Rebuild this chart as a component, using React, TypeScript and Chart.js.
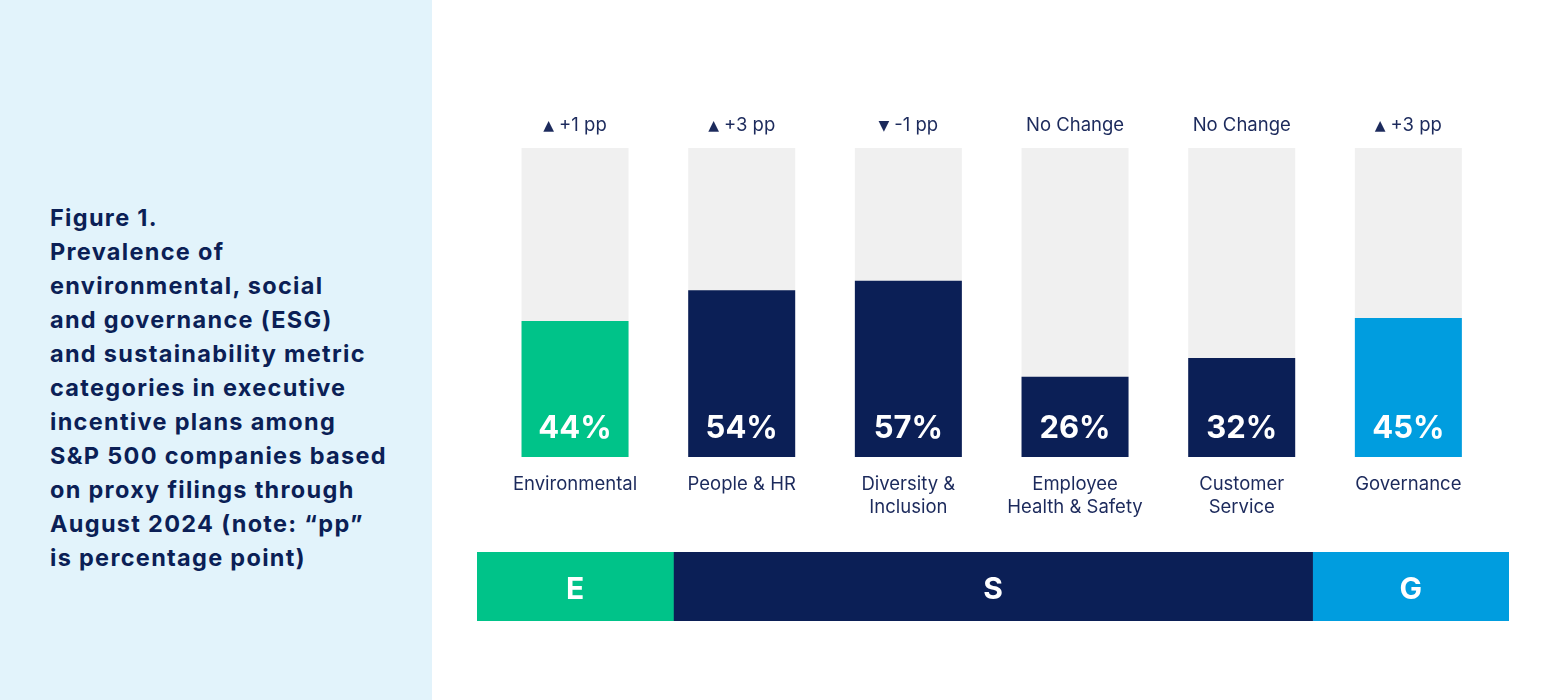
import React, { useEffect, useRef } from "react";
import { Chart, registerables } from "chart.js";

Chart.register(...registerables);

// ---------- data ----------
const categories: string[][] = [
  ["Environmental"],
  ["People & HR"],
  ["Diversity &", "Inclusion"],
  ["Employee", "Health & Safety"],
  ["Customer", "Service"],
  ["Governance"],
];
const values: number[] = [44, 54, 57, 26, 32, 45];
const changeLabels: string[] = ["▲ +1 pp", "▲ +3 pp", "▼ -1 pp", "No Change", "No Change", "▲ +3 pp"];
const pillar: string[] = ["E", "S", "S", "S", "S", "G"];

const groups: string[] = ["E", "S", "G"];
const groupShare: number[] = [1.18, 3.84, 1.18];

const titleLines: string[] = [
  "Figure 1.",
  "Prevalence of",
  "environmental, social",
  "and governance (ESG)",
  "and sustainability metric",
  "categories in executive",
  "incentive plans among",
  "S&P 500 companies based",
  "on proxy filings through",
  "August 2024 (note: “pp”",
  "is percentage point)",
];

// ---------- styles ----------
const NAVY = "#0b1f56";
const GREEN = "#00c389";
const BLUE = "#009ddf";
const TRACK = "#f0f0f0";
const TEXT = "#1c2a5c";
const FONT = "Inter, 'Noto Sans', sans-serif";
const pillarColor: Record<string, string> = { E: GREEN, S: NAVY, G: BLUE };

const barLabelPlugin = {
  id: "barLabels",
  afterDatasetsDraw(chart: any) {
    const ctx = chart.ctx;
    const meta = chart.getDatasetMeta(1);
    const area = chart.chartArea;
    ctx.save();
    meta.data.forEach((bar: any, i: number) => {
      // value label inside bar
      ctx.fillStyle = "#ffffff";
      ctx.font = `700 31px ${FONT}`;
      ctx.textAlign = "center";
      ctx.textBaseline = "middle";
      ctx.fillText(`${values[i]}%`, bar.x, area.bottom - 28);

      // change label above
      const lab = changeLabels[i];
      const y = area.top - 23;
      ctx.fillStyle = TEXT;
      if (lab.startsWith("▲") || lab.startsWith("▼")) {
        const glyph = lab.charAt(0);
        const rest = lab.slice(2);
        const gfont = `400 14px 'DejaVu Sans', sans-serif`;
        ctx.font = gfont;
        const gw = ctx.measureText(glyph).width;
        ctx.font = `400 18.5px ${FONT}`;
        const tw = ctx.measureText(rest).width;
        const gap = 5;
        const total = gw + gap + tw;
        const x0 = bar.x - total / 2;
        ctx.textAlign = "left";
        ctx.font = gfont;
        ctx.fillText(glyph, x0, y + 1);
        ctx.font = `400 18.5px ${FONT}`;
        ctx.fillText(rest, x0 + gw + gap, y);
      } else {
        ctx.font = `400 18.5px ${FONT}`;
        ctx.textAlign = "center";
        ctx.fillText(lab, bar.x, y);
      }
    });
    ctx.restore();
  },
};

const bandLabelPlugin = {
  id: "bandLabels",
  afterDatasetsDraw(chart: any) {
    const ctx = chart.ctx;
    ctx.save();
    ctx.fillStyle = "#ffffff";
    ctx.font = `700 30px ${FONT}`;
    ctx.textAlign = "center";
    ctx.textBaseline = "middle";
    chart.data.datasets.forEach((ds: any, i: number) => {
      const bar = chart.getDatasetMeta(i).data[0];
      const x = (bar.x + bar.base) / 2;
      ctx.fillText(ds.label, x, bar.y + 3);
    });
    ctx.restore();
  },
};

export default function App() {
  const mainRef = useRef<HTMLCanvasElement>(null);
  const bandRef = useRef<HTMLCanvasElement>(null);

  useEffect(() => {
    document.body.style.margin = "0";
    const main = new Chart(mainRef.current!, {
      type: "bar",
      data: {
        labels: categories,
        datasets: [
          {
            label: "track",
            data: values.map(() => 100),
            backgroundColor: TRACK,
            grouped: false,
            order: 2,
            barPercentage: 0.642,
            categoryPercentage: 1,
          } as any,
          {
            label: "value",
            data: values,
            backgroundColor: pillar.map((p) => pillarColor[p]),
            grouped: false,
            order: 1,
            barPercentage: 0.642,
            categoryPercentage: 1,
          } as any,
        ],
      },
      options: {
        responsive: false,
        maintainAspectRatio: false,
        animation: false,
        layout: { padding: { top: 148, left: 59.7, right: 58.3, bottom: 0 } },
        plugins: { legend: { display: false }, tooltip: { enabled: false } },
        scales: {
          y: { display: false, min: 0, max: 100 },
          x: {
            grid: { display: false, drawTicks: false },
            border: { display: false },
            ticks: {
              color: TEXT,
              padding: 15.5,
              font: { family: FONT, size: 18.5, lineHeight: 23 / 18.5 },
              maxRotation: 0,
              autoSkip: false,
            },
            afterFit(scale: any) {
              scale.height = 83;
            },
          },
        },
      },
      plugins: [barLabelPlugin],
    });

    const band = new Chart(bandRef.current!, {
      type: "bar",
      data: {
        labels: [""],
        datasets: groups.map((g, i) => ({
          label: g,
          data: [groupShare[i]],
          backgroundColor: pillarColor[g],
          borderWidth: 0,
          barPercentage: 1,
          categoryPercentage: 1,
        })),
      },
      options: {
        indexAxis: "y",
        responsive: false,
        maintainAspectRatio: false,
        animation: false,
        layout: { padding: 0 },
        plugins: { legend: { display: false }, tooltip: { enabled: false } },
        scales: {
          x: { display: false, stacked: true, min: 0, max: groupShare.reduce((a, b) => a + b, 0) },
          y: { display: false, stacked: true },
        },
      },
      plugins: [bandLabelPlugin],
    });

    return () => {
      main.destroy();
      band.destroy();
    };
  }, []);

  return (
    <div style={{ position: "relative", width: 1550, height: 700, background: "#ffffff", overflow: "hidden" }}>
      <div
        style={{
          position: "absolute",
          left: 0,
          top: 0,
          width: 432,
          height: 700,
          background: "#e2f3fb",
        }}
      >
        <div
          style={{
            position: "absolute",
            left: 50,
            top: 201,
            fontFamily: FONT,
            fontWeight: 700,
            fontSize: 23.5,
            letterSpacing: "1.3px",
            lineHeight: "34px",
            color: NAVY,
            whiteSpace: "nowrap",
          }}
        >
          {titleLines.map((l, i) => (
            <div key={i}>{l}</div>
          ))}
        </div>
      </div>
      <canvas
        ref={mainRef}
        width={1118}
        height={540}
        style={{ position: "absolute", left: 432, top: 0, width: 1118, height: 540 }}
      />
      <canvas
        ref={bandRef}
        width={1032}
        height={69}
        style={{ position: "absolute", left: 477, top: 552, width: 1032, height: 69 }}
      />
    </div>
  );
}
